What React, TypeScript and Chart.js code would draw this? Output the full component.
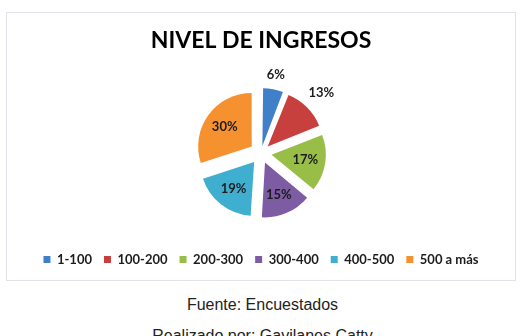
import React, { useEffect, useRef } from "react";
import { Chart, registerables } from "chart.js";

Chart.register(...registerables);

// Income brackets and the share of respondents in each one (%)
const categories = ["1-100", "100-200", "200-300", "300-400", "400-500", "500 a más"];
const percentages = [6, 13, 17, 15, 19, 30];
const sliceColors = ["#4080C8", "#C8403E", "#98BE48", "#7D5CA4", "#40AECF", "#F5912F"];
const chartTitle = "NIVEL DE INGRESOS";
const sourceLines = ["Fuente: Encuestados", "Realizado por: Gavilanes Catty"];

const FONT = "Lato, 'Liberation Sans', Arial, sans-serif";
const PULL = 12; // how far every slice is pulled away from the centre, px
const RADIUS = 53;

// Chart.js moves an arc by offset/4 * (2 - sin(circumference)); invert that so
// every slice is pulled out by the same distance.
function sliceOffset(ctx: any): number {
  const values = ctx.dataset.data as number[];
  const total = values.reduce((a, b) => a + b, 0);
  const circ = ((values[ctx.dataIndex] as number) / total) * Math.PI * 2;
  const fix = 1 - Math.sin(Math.min(Math.PI, circ));
  return (4 * PULL) / (1 + fix);
}

// Percentage labels: inside the big slices, just outside the small ones.
const sliceLabels = {
  id: "sliceLabels",
  afterDatasetsDraw(chart: any) {
    const meta = chart.getDatasetMeta(0);
    const values = chart.data.datasets[0].data as number[];
    const ctx = chart.ctx as CanvasRenderingContext2D;
    ctx.save();
    ctx.font = `bold 13px ${FONT}`;
    ctx.fillStyle = "#1c1c1c";
    ctx.textAlign = "center";
    ctx.textBaseline = "middle";
    meta.data.forEach((el: any, i: number) => {
      const { x, y, startAngle, endAngle, outerRadius } = el.getProps(
        ["x", "y", "startAngle", "endAngle", "outerRadius"],
        true
      );
      const mid = (startAngle + endAngle) / 2;
      const text = `${values[i]}%`;
      const w = ctx.measureText(text).width;
      const h = 12;
      const c = Math.cos(mid);
      const s = Math.sin(mid);
      const d =
        values[i] < 14
          ? outerRadius + PULL + 7 + (Math.abs(c) * w) / 2 + (Math.abs(s) * h) / 2
          : PULL + outerRadius * 0.62;
      ctx.fillText(text, x + c * d, y + s * d);
    });
    ctx.restore();
  },
};

export default function App() {
  const canvasRef = useRef<HTMLCanvasElement | null>(null);

  useEffect(() => {
    if (!canvasRef.current) return;
    const chart = new Chart(canvasRef.current, {
      type: "pie",
      data: {
        labels: categories,
        datasets: [
          {
            data: percentages,
            backgroundColor: sliceColors,
            borderWidth: 0,
            offset: sliceOffset as any,
            radius: RADIUS,
          } as any,
        ],
      },
      options: {
        animation: false,
        responsive: false,
        maintainAspectRatio: false,
        layout: { padding: { bottom: 4 } },
        plugins: {
          title: {
            display: true,
            text: chartTitle,
            color: "#000",
            font: { family: FONT, size: 23, weight: "bold" },
            padding: { top: 14, bottom: 10.8 },
          },
          legend: {
            position: "bottom",
            labels: {
              boxWidth: 7,
              boxHeight: 7,
              padding: 12,
              color: "#1c1c1c",
              font: { family: FONT, size: 13, weight: "bold" },
            },
          },
          tooltip: { enabled: false },
        },
      },
      plugins: [sliceLabels],
    });
    return () => chart.destroy();
  }, []);

  return (
    <div
      style={{
        position: "absolute",
        left: 0,
        top: 0,
        width: 521,
        height: 336,
        background: "#fff",
        overflow: "hidden",
      }}
    >
      <div
        style={{
          position: "absolute",
          left: 6,
          top: 12,
          width: 508,
          height: 267,
          border: "1px solid #E2E2EA",
          background: "#fff",
        }}
      >
        <canvas ref={canvasRef} width={508} height={267} style={{ display: "block" }} />
      </div>
      {sourceLines.map((line, i) => (
        <div
          key={line}
          style={{
            position: "absolute",
            left: 2,
            width: 521,
            top: 297 + i * 31,
            textAlign: "center",
            fontFamily: "'Liberation Sans', Arial, sans-serif",
            fontSize: 16,
            lineHeight: "16px",
            color: "#222",
          }}
        >
          {line}
        </div>
      ))}
    </div>
  );
}
